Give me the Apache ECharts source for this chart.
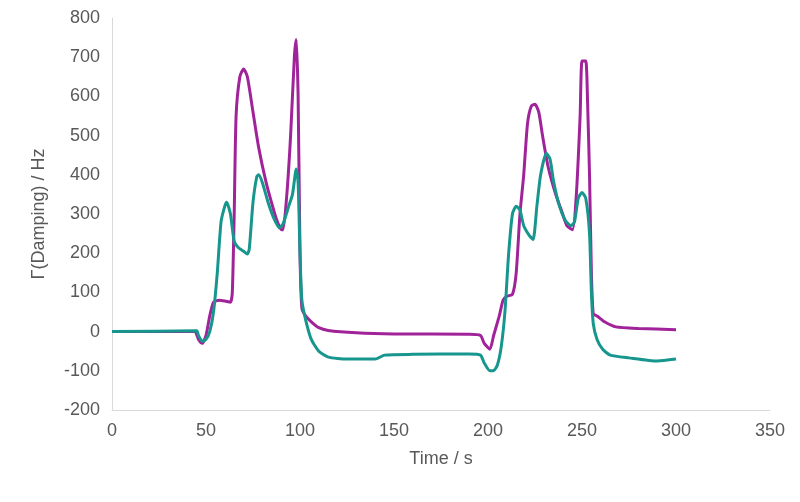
<!DOCTYPE html><html><head><meta charset="utf-8"><script src="https://cdn.jsdelivr.net/npm/echarts@6/dist/echarts.min.js"></script></head><body style="margin:0"><div id="c" style="width:800px;height:502px"></div><script>
const purpleT=[0,44,46,48,50,52,54,57,60,63,64,65,66,68,70,72,75,78,82,86,88,90,91,93,95,97,98,99,100,101,103,106,110,115,130,150,190,196,198,201,203,206,208,210,213,215,217,219,221,223,225,227,229,232,236,239,242,245,247,249,250,252,253,254,255,256,258,262,268,280,300];
const purpleV=[0,0,-20,-30,-10,40,75,80,78,75,100,300,550,650,670,650,560,470,380,310,280,260,260,350,500,700,745,600,200,60,40,25,10,3,-3,-6,-7,-10,-30,-45,-10,40,80,90,95,150,300,400,530,575,580,560,500,420,350,310,270,260,350,550,690,690,580,400,150,45,40,25,12,8,5];
const tealT=[0,45,46,48,50,52,54,56,58,60,61,63,65,67,70,72,73,75,77,78,80,83,86,89,91,94,96,98,99,100,101,103,106,110,115,125,140,145,160,190,196,198,201,203,205,207,209,211,213,215,217,219,222,224,226,228,231,233,235,238,241,244,246,248,250,252,254,255,256,258,261,265,275,290,300];
const tealV=[0,2,-10,-25,-20,0,50,150,280,320,330,300,230,215,205,198,210,330,395,400,380,330,290,265,275,320,350,415,380,200,80,30,-20,-50,-65,-70,-70,-60,-58,-57,-60,-80,-100,-100,-85,-40,50,200,300,320,310,270,245,235,320,400,455,440,380,320,285,270,280,340,355,340,250,100,20,-20,-45,-60,-67,-75,-70];
const pair=(t,v)=>t.map((x,i)=>[x,v[i]]);
const ax={color:'#595959',fontSize:18,fontFamily:'Liberation Sans'};
const ch=echarts.init(document.getElementById('c'));
ch.setOption({animation:false,grid:{left:112,right:30,top:18,bottom:92},
xAxis:{type:'value',min:0,max:350,interval:50,name:'Time / s',nameLocation:'middle',nameGap:40,nameTextStyle:ax,axisLabel:Object.assign({margin:12},ax),axisLine:{onZero:false,lineStyle:{color:'#d9d9d9'}},axisTick:{show:false},splitLine:{show:false}},
yAxis:{type:'value',min:-200,max:800,interval:100,name:'Γ(Damping) / Hz',nameLocation:'middle',nameGap:64,nameTextStyle:ax,axisLabel:Object.assign({margin:12},ax),axisLine:{show:true,lineStyle:{color:'#d9d9d9'}},axisTick:{show:false},splitLine:{show:false}},
series:[{type:'line',data:pair(purpleT,purpleV),showSymbol:false,smooth:0.2,lineStyle:{color:'#A0239A',width:3},itemStyle:{color:'#A0239A'}},
{type:'line',data:pair(tealT,tealV),showSymbol:false,smooth:0.2,lineStyle:{color:'#17968E',width:3},itemStyle:{color:'#17968E'}}]});
</script></body></html>
